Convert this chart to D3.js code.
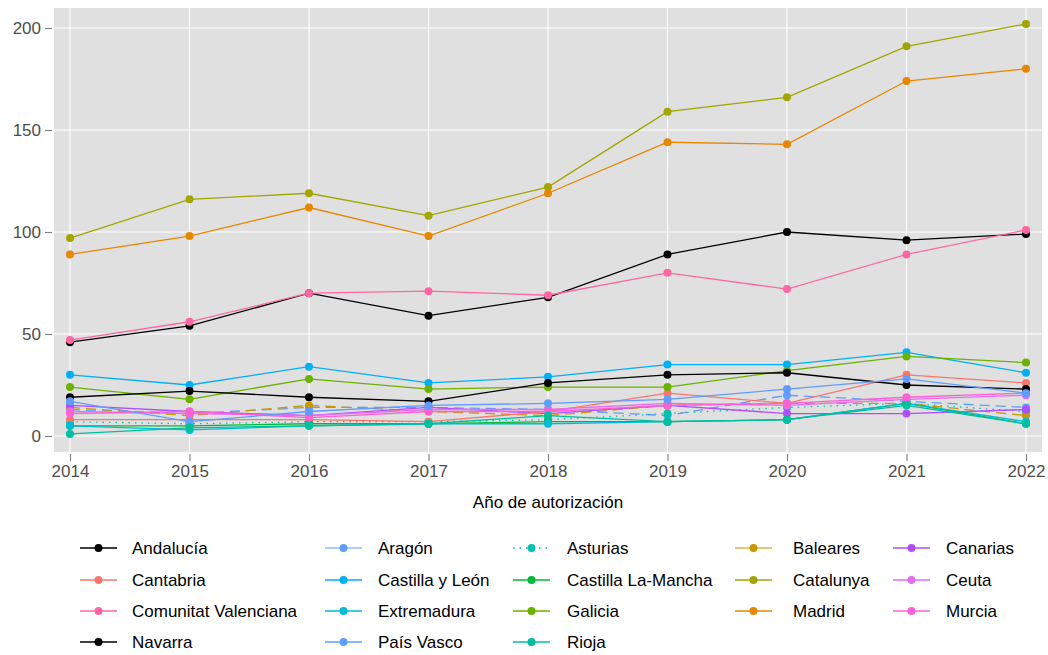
<!DOCTYPE html>
<html>
<head>
<meta charset="utf-8">
<script src="https://cdn.jsdelivr.net/npm/d3@7"></script>
<style>
body { margin: 0; background: #fff; font-family: "Liberation Sans", Arial, sans-serif; }
</style>
</head>
<body>
<div id="chart"></div>
<script>
// years on the x axis
var years = [2014, 2015, 2016, 2017, 2018, 2019, 2020, 2021, 2022];
var yTicks = [0, 50, 100, 150, 200];

// regions, in legend order (alphabetical, row by row)
var regions = ["Andalucía", "Aragón", "Asturias", "Baleares", "Canarias",
  "Cantabria", "Castilla y León", "Castilla La-Mancha", "Catalunya", "Ceuta",
  "Comunitat Valenciana", "Extremadura", "Galicia", "Madrid", "Murcia",
  "Navarra", "País Vasco", "Rioja"];

// values
var andalucia    = [46, 54, 70, 59, 68, 89, 100, 96, 99];
var aragon       = [13, 11, 14, 14, 13, 10, 20, 17, 14];
var asturias     = [7, 6, 7, 7, 8, 11, 14, 16, 12];
var baleares     = [14, 10, 15, 12, 10, 15, 16, 16, 10];
var canarias     = [15, 12, 10, 14, 11, 15, 11, 11, 13];
var cantabria    = [8, 8, 8, 7, 12, 21, 16, 30, 26];
var castillaLeon = [30, 25, 34, 26, 29, 35, 35, 41, 31];
var castillaMancha = [5, 5, 6, 6, 7, 7, 8, 16, 6];
var catalunya    = [97, 116, 119, 108, 122, 159, 166, 191, 202];
var ceuta        = [12, 11, 10, 13, 13, 16, 15, 18, 20];
var valenciana   = [47, 56, 70, 71, 69, 80, 72, 89, 101];
var extremadura  = [5, 3, 5, 6, 6, 7, 8, 16, 7];
var galicia      = [24, 18, 28, 23, 24, 24, 32, 39, 36];
var madrid       = [89, 98, 112, 98, 119, 144, 143, 174, 180];
var murcia       = [11, 12, 9, 12, 12, 15, 16, 19, 21];
var navarra      = [19, 22, 19, 17, 26, 30, 31, 25, 23];
var paisVasco    = [17, 7, 12, 15, 16, 18, 23, 28, 21];
var rioja        = [1, 4, 5, 6, 10, 7, 8, 15, 6];

var values = [andalucia, aragon, asturias, baleares, canarias, cantabria,
  castillaLeon, castillaMancha, catalunya, ceuta, valenciana, extremadura,
  galicia, madrid, murcia, navarra, paisVasco, rioja];

var colors = ["#000000", "#619CFF", "#00C0AF", "#C99800", "#B24DFF",
  "#F8766D", "#00B0F6", "#00BA38", "#A3A500", "#E76BF3",
  "#FF67A4", "#00BCD8", "#6BB100", "#E58700", "#FD61D1",
  "#000000", "#619CFF", "#00BFA0"];
var dashes = [null, "10,6", "1.5,5", "10,6", null,
  null, null, null, null, null,
  null, null, null, null, null,
  null, null, null];

var series = regions.map(function(r, i) {
  return {name: r, color: colors[i], dash: dashes[i],
    vals: years.map(function(y, j) { return {year: y, v: values[i][j]}; })};
});

var W = 1048, H = 655;
var panel = {left: 54, right: 1042, top: 8, bottom: 452};

var svg = d3.select("#chart").append("svg")
  .attr("width", W).attr("height", H);

var x = d3.scaleLinear().domain([2014, 2022]).range([70, 1026]);
var y = d3.scaleLinear().domain([0, 200]).range([436, 28]);

// panel background
svg.append("rect")
  .attr("x", panel.left).attr("y", panel.top)
  .attr("width", panel.right - panel.left)
  .attr("height", panel.bottom - panel.top)
  .attr("fill", "#E0E0E0");

// grid
svg.append("g").selectAll("line").data(yTicks).enter().append("line")
  .attr("x1", panel.left).attr("x2", panel.right)
  .attr("y1", function(d) { return y(d); }).attr("y2", function(d) { return y(d); })
  .attr("stroke", "#fff").attr("stroke-width", 1.1);
svg.append("g").selectAll("line").data(years).enter().append("line")
  .attr("y1", panel.top).attr("y2", panel.bottom)
  .attr("x1", function(d) { return x(d); }).attr("x2", function(d) { return x(d); })
  .attr("stroke", "#fff").attr("stroke-width", 1.1);

// axes
var yAxis = svg.append("g")
  .attr("transform", "translate(" + (panel.left - 2) + ",0)")
  .call(d3.axisLeft(y).tickValues(yTicks).tickSize(7).tickPadding(4));
var xAxis = svg.append("g")
  .attr("transform", "translate(0," + (panel.bottom + 2) + ")")
  .call(d3.axisBottom(x).tickValues(years).tickFormat(d3.format("d")).tickSize(7).tickPadding(4));
[yAxis, xAxis].forEach(function(a) {
  a.select(".domain").remove();
  a.selectAll("line").attr("stroke", "#7f7f7f").attr("stroke-width", 1.1);
  a.selectAll("text").attr("fill", "#4D4D4D")
    .style("font-size", "17px").style("font-family", "Liberation Sans, Arial, sans-serif");
});

svg.append("text")
  .attr("x", (panel.left + panel.right) / 2).attr("y", 508)
  .attr("text-anchor", "middle")
  .style("font-size", "17px")
  .text("Año de autorización");

// lines, then points
var line = d3.line()
  .x(function(d) { return x(d.year); })
  .y(function(d) { return y(d.v); });

svg.append("g").selectAll("path").data(series).enter().append("path")
  .attr("d", function(d) { return line(d.vals); })
  .attr("fill", "none")
  .attr("stroke", function(d) { return d.color; })
  .attr("stroke-width", 1.3)
  .attr("stroke-dasharray", function(d) { return d.dash; });

var pts = svg.append("g");
series.forEach(function(s) {
  pts.selectAll(null).data(s.vals).enter().append("circle")
    .attr("cx", function(d) { return x(d.year); })
    .attr("cy", function(d) { return y(d.v); })
    .attr("r", 4)
    .attr("fill", s.color);
});

// legend, 5 columns filled row by row
var colKey = [80, 325, 513, 735, 893];
var colText = [132, 378, 567, 793, 946];
var rowY = [548, 580, 611, 642];

var leg = svg.append("g").selectAll("g").data(series).enter().append("g")
  .attr("transform", function(d, i) {
    return "translate(" + colKey[i % 5] + "," + rowY[Math.floor(i / 5)] + ")";
  });
leg.append("line")
  .attr("x1", 0).attr("x2", 37).attr("y1", 0).attr("y2", 0)
  .attr("stroke", function(d) { return d.color; })
  .attr("stroke-width", 1.3)
  .attr("stroke-dasharray", function(d) { return d.dash ? (d.dash == "1.5,5" ? "1.5,5" : null) : null; })
  .attr("stroke-opacity", function(d) { return d.dash && d.dash != "1.5,5" ? 0.7 : 1; });
leg.append("circle")
  .attr("cx", 18.5).attr("cy", 0).attr("r", 4)
  .attr("fill", function(d) { return d.color; });
leg.append("text")
  .attr("x", function(d, i) { return colText[i % 5] - colKey[i % 5]; })
  .attr("y", 0).attr("dy", "0.35em")
  .style("font-size", "17px")
  .attr("fill", "#000")
  .text(function(d) { return d.name; });
</script>
</body>
</html>
